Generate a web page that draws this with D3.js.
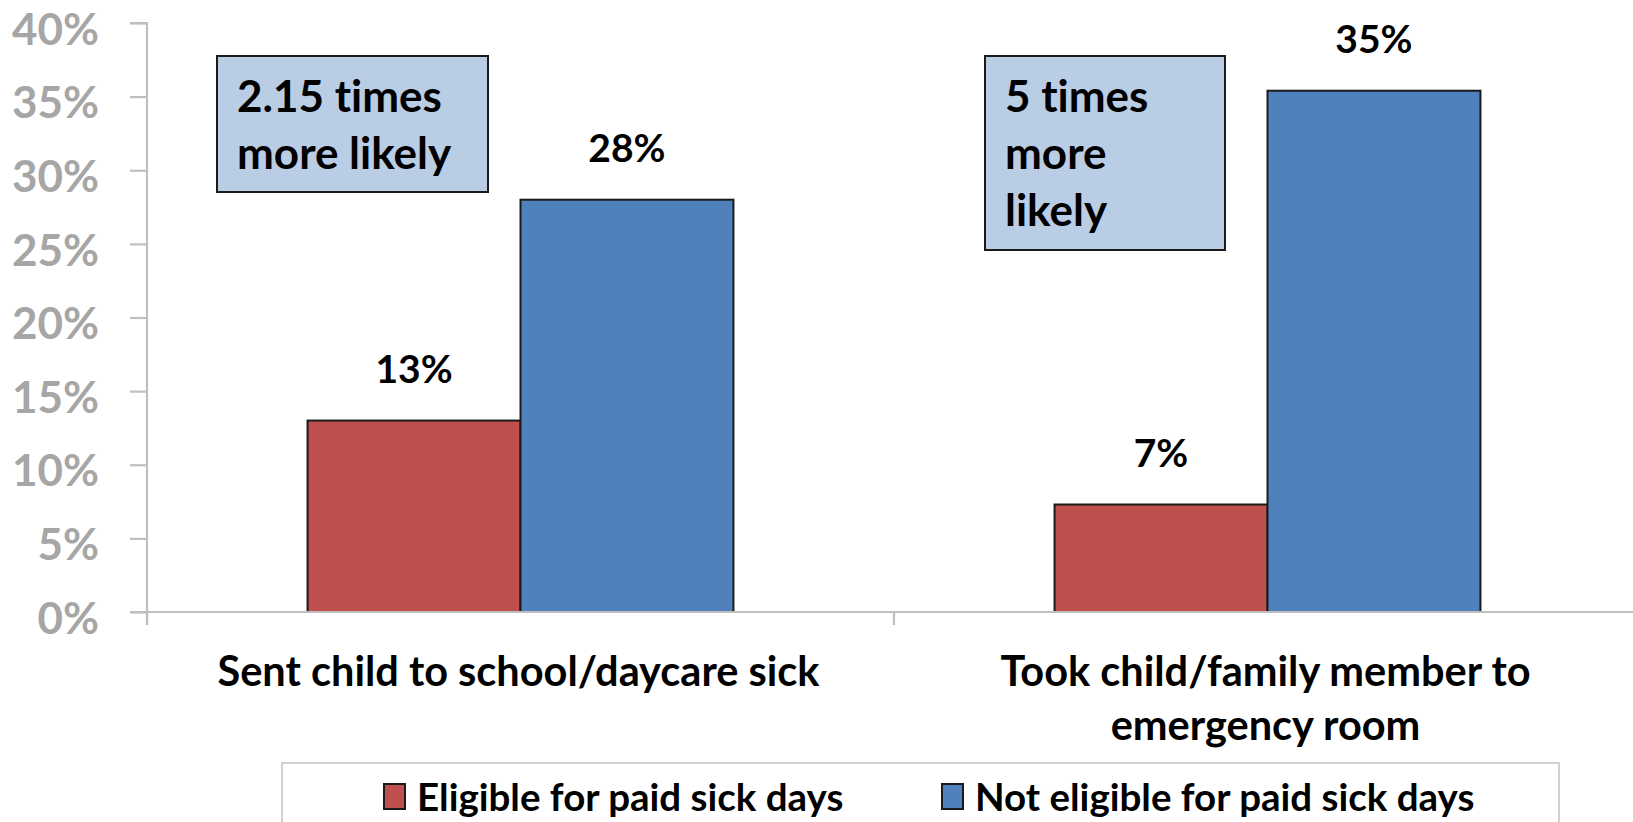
<!DOCTYPE html>
<html>
<head>
<meta charset="utf-8">
<script src="https://cdn.jsdelivr.net/npm/d3@7"></script>
<style>
  html, body { margin: 0; padding: 0; background: #fff; }
  svg { display: block; }
  text { font-family: Lato, "Open Sans", sans-serif; font-weight: 700; font-variant-ligatures: none; }
</style>
</head>
<body>
<svg id="chart" width="1633" height="822"></svg>
<script>
// Share of workers reporting each behaviour, by paid-sick-day eligibility
const categories = [
  ["Sent child to school/daycare sick"],
  ["Took child/family member to", "emergency room"]
];
const seriesNames = ["Eligible for paid sick days", "Not eligible for paid sick days"];
const eligible = [13, 7.3];
const notEligible = [28, 35.4];
const yTicks = [0, 5, 10, 15, 20, 25, 30, 35, 40];
const notes = [
  ["2.15 times", "more likely"],
  ["5 times", "more", "likely"]
];

const colors = ["#c0504d", "#4f81bd"];
const svg = d3.select("#chart");

const plot = { left: 147, right: 1641, top: 23, bottom: 612 };

const x0 = d3.scaleBand()
  .domain(d3.range(categories.length))
  .range([plot.left, plot.right])
  .paddingInner(0)
  .paddingOuter(0);

const x1 = d3.scaleBand()
  .domain([0, 1])
  .range([0, x0.bandwidth()])
  .paddingInner(0)
  .paddingOuter(0.754);

const y = d3.scaleLinear().domain([0, 40]).range([plot.bottom, plot.top]);

// y axis
const yAxis = svg.append("g")
  .attr("transform", `translate(${plot.left},0)`)
  .call(d3.axisLeft(y).tickValues(yTicks).tickSize(17).tickPadding(31)
    .tickFormat(d => d + "%"));
yAxis.select(".domain").attr("stroke", "#bfbfbf").attr("stroke-width", 2.2)
  .attr("d", `M-17,${plot.top}H0V${plot.bottom + 13}`);
yAxis.selectAll(".tick line").attr("stroke", "#bfbfbf").attr("stroke-width", 2.2);
yAxis.selectAll(".tick text")
  .attr("fill", "#a6a6a6")
  .style("font-size", "44px")
  .attr("dy", "0.48em");

// bars
const groups = svg.append("g").selectAll("g")
  .data(categories.map((c, i) => [eligible[i], notEligible[i]]))
  .join("g")
  .attr("transform", (d, i) => `translate(${x0(i)},0)`);

groups.selectAll("rect")
  .data(d => d)
  .join("rect")
  .attr("x", (d, j) => x1(j))
  .attr("width", x1.bandwidth())
  .attr("y", d => y(d))
  .attr("height", d => y(0) - y(d))
  .attr("fill", (d, j) => colors[j])
  .attr("stroke", "#1a1a1a")
  .attr("stroke-width", 2);

groups.selectAll("text.value")
  .data(d => d)
  .join("text")
  .attr("class", "value")
  .attr("x", (d, j) => x1(j) + x1.bandwidth() / 2)
  .attr("y", d => y(d) - 38)
  .attr("text-anchor", "middle")
  .attr("fill", "#000")
  .style("font-size", "39px")
  .text(d => Math.round(d) + "%");

// x axis
const xAxis = svg.append("g")
  .attr("transform", `translate(0,${plot.bottom})`);
xAxis.append("line")
  .attr("x1", plot.left - 17).attr("x2", plot.right)
  .attr("stroke", "#bfbfbf").attr("stroke-width", 2.2);
xAxis.selectAll("line.tick")
  .data(d3.range(categories.length + 1))
  .join("line")
  .attr("class", "tick")
  .attr("x1", i => i < categories.length ? x0(i) : plot.right)
  .attr("x2", i => i < categories.length ? x0(i) : plot.right)
  .attr("y1", 0).attr("y2", 13)
  .attr("stroke", "#bfbfbf").attr("stroke-width", 2.2);

xAxis.selectAll("text.cat")
  .data(categories)
  .join("text")
  .attr("class", "cat")
  .attr("text-anchor", "middle")
  .attr("fill", "#000")
  .style("font-size", "41.5px")
  .each(function (lines, i) {
    const t = d3.select(this);
    lines.forEach((ln, k) => {
      t.append("tspan")
        .attr("x", x0(i) + x0.bandwidth() / 2 - 2)
        .attr("y", 74 + k * 54)
        .text(ln);
    });
  });

// callout boxes
const noteBoxes = [
  { x: 217, y: 56, w: 271, h: 136 },
  { x: 985, y: 56, w: 240, h: 194 }
];
const noteG = svg.append("g").selectAll("g")
  .data(notes)
  .join("g");
noteG.append("rect")
  .attr("x", (d, i) => noteBoxes[i].x)
  .attr("y", (d, i) => noteBoxes[i].y)
  .attr("width", (d, i) => noteBoxes[i].w)
  .attr("height", (d, i) => noteBoxes[i].h)
  .attr("fill", "#b9cde5")
  .attr("stroke", "#1a1a1a")
  .attr("stroke-width", 2);
noteG.each(function (lines, i) {
  const t = d3.select(this).append("text")
    .attr("fill", "#000")
    .style("font-size", "44px");
  lines.forEach((ln, k) => {
    t.append("tspan")
      .attr("x", noteBoxes[i].x + 20)
      .attr("y", noteBoxes[i].y + 56 + k * 57)
      .text(ln);
  });
});

// legend
const legend = svg.append("g");
legend.append("rect")
  .attr("x", 282).attr("y", 763)
  .attr("width", 1277).attr("height", 80)
  .attr("fill", "#fff")
  .attr("stroke", "#d0d0d0").attr("stroke-width", 2);
const legendX = [384, 942];
const items = legend.selectAll("g")
  .data(seriesNames)
  .join("g")
  .attr("transform", (d, i) => `translate(${legendX[i]},784)`);
items.append("rect")
  .attr("width", 21).attr("height", 25)
  .attr("fill", (d, i) => colors[i])
  .attr("stroke", "#1a1a1a").attr("stroke-width", 2);
items.append("text")
  .attr("x", 33).attr("y", 27)
  .attr("fill", "#000")
  .style("font-size", "38.5px")
  .text(d => d);
</script>
</body>
</html>
